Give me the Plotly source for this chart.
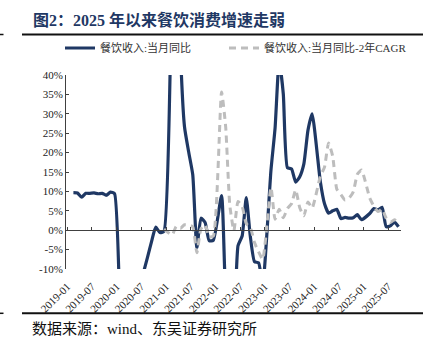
import plotly.graph_objects as go

# ---------------- data ----------------
months = [f"{y}-{m:02d}" for y in range(2019, 2026) for m in range(1, 13)][:81]  # 2019-01 .. 2025-09

tick_labels = ["2019-01", "2019-07", "2020-01", "2020-07", "2021-01", "2021-07", "2022-01",
               "2022-07", "2023-01", "2023-07", "2024-01", "2024-07", "2025-01", "2025-07"]

y_tick_vals = [-10, -5, 0, 5, 10, 15, 20, 25, 30, 35, 40]
y_tick_text = ["-10%", "-5%", "0%", "5%", "10%", "15%", "20%", "25%", "30%", "35%", "40%"]

# 餐饮收入:当月同比 (%), January not published (Jan-Feb combined)
yoy_2019 = [None, 9.7, 9.6, 8.5, 9.5, 9.5, 9.6, 9.4, 9.5, 9.0, 9.8, 9.4]
yoy_2020 = [None, -43.1, -46.8, -31.1, -18.9, -15.2, -11.0, -7.0, -2.9, 0.8, -0.6, -0.3]
yoy_2021 = [None, 68.9, 91.6, 46.4, 26.6, 20.2, 14.3, -4.5, 3.1, 2.0, -2.7, -2.6]
yoy_2022 = [None, 8.9, -16.4, -22.7, -21.1, -4.0, -1.5, 8.4, -1.7, -8.1, -8.4, -14.1]
yoy_2023 = [None, 15.4, 26.3, 43.8, 35.1, 16.1, 15.8, 12.4, 13.8, 17.1, 25.8, 30.0]
yoy_2024 = [None, 12.5, 6.9, 4.4, 5.0, 5.4, 3.0, 3.3, 3.1, 3.2, 4.0, 2.7]
yoy_2025 = [None, 4.3, 5.6, 5.2, 5.9, 0.9, 1.1, 2.1, 0.9]

# 餐饮收入:当月同比-2年CAGR (%)
cagr_2019_2020 = [None] * 23 + [0.3]
cagr_2021 = [None, -1.2, 1.0, 0.5, 1.4, 1.3, 0.9, -5.8, 0.4, 1.4, -1.7, -1.5]
cagr_2022 = [None, 35.6, 26.6, 6.4, -0.1, 7.4, 6.1, 1.7, 0.7, -3.2, -5.6, -7.5]
cagr_2023 = [None, 11.0, 2.8, 5.4, 3.2, 5.6, 6.8, 10.4, 5.8, 3.7, 7.3, 5.7]
cagr_2024 = [None, 13.9, 16.2, 22.5, 19.1, 10.6, 9.2, 7.8, 8.3, 9.9, 14.4, 15.5]
cagr_2025 = [None, 8.3, 6.2, 4.8, 5.4, 3.1, 2.0, 2.7, 2.0]

yoy = yoy_2019 + yoy_2020 + yoy_2021 + yoy_2022 + yoy_2023 + yoy_2024 + yoy_2025
cagr = cagr_2019_2020 + cagr_2021 + cagr_2022 + cagr_2023 + cagr_2024 + cagr_2025

name_yoy = "餐饮收入:当月同比"
name_cagr = "餐饮收入:当月同比-2年CAGR"

# ---------------- layout geometry (pixels) ----------------
W, H = 432, 343
L, R, T, B = 66, 401, 75, 269
PW, PH = R - L, B - T


def px_x(px):
    return (px - L) / PW


def px_y(py):
    return (B - py) / PH


x_range = [-0.8, 80.6]
boundary_ticks = [months.index(t) - 0.5 for t in tick_labels]

NAVY = "#1f3864"
GRAY = "#bdbdbd"
AXIS = "#404040"
SERIF_CJK = "Liberation Serif, Noto Sans CJK SC"

fig = go.Figure()

# invisible helper trace so the zero-line axis (x) gets drawn
fig.add_trace(go.Scatter(x=[x_range[0], x_range[1]], y=[0, 0], xaxis="x", yaxis="y",
                         mode="lines", line=dict(width=0), showlegend=False, hoverinfo="skip"))

fig.add_trace(go.Scatter(x=months, y=yoy, name=name_yoy, xaxis="x2", yaxis="y",
                         mode="lines", connectgaps=True, legend="legend",
                         line=dict(color=NAVY, width=3.2, shape="spline", smoothing=0.5)))
fig.add_trace(go.Scatter(x=months, y=cagr, name=name_cagr, xaxis="x2", yaxis="y",
                         mode="lines", connectgaps=True, legend="legend2",
                         line=dict(color=GRAY, width=3, dash="7px,5px", shape="spline", smoothing=0.5)))

legend_style = dict(orientation="h", xanchor="left", yanchor="middle",
                    font=dict(family=SERIF_CJK, size=11, color="#333333"),
                    bgcolor="rgba(0,0,0,0)", itemclick=False)

fig.update_layout(
    width=W, height=H,
    margin=dict(l=L, r=W - R, t=T, b=H - B, pad=0),
    paper_bgcolor="white", plot_bgcolor="white",
    showlegend=True,
    legend=dict(x=px_x(60), y=px_y(48), **legend_style),
    legend2=dict(x=px_x(224), y=px_y(48), **legend_style),
    xaxis=dict(type="linear", range=x_range, anchor="free", position=0.2,
               tickmode="array", tickvals=boundary_ticks, ticks="inside", ticklen=3,
               tickcolor=AXIS, showline=True, linecolor=AXIS, linewidth=1,
               showticklabels=False, showgrid=False, zeroline=False, fixedrange=True),
    xaxis2=dict(type="category", overlaying="x", anchor="y", side="bottom",
                range=x_range, tickmode="array", tickvals=tick_labels, ticktext=tick_labels,
                tickangle=-45, ticks="", showline=False, showgrid=False, zeroline=False,
                ticklabelstandoff=8, ticklabelshift=-2,
                tickfont=dict(family="Liberation Serif", size=11, color="#222222")),
    yaxis=dict(range=[-10, 40], tickmode="array", tickvals=y_tick_vals, ticktext=y_tick_text,
               ticks="inside", ticklen=3, tickcolor=AXIS, showline=True, linecolor=AXIS,
               linewidth=1, showgrid=False, zeroline=False,
               tickfont=dict(family="Liberation Serif", size=11, color="#222222")),
)

# title and source
fig.add_annotation(text="<b>图2：2025 年以来餐饮消费增速走弱</b>", xref="paper", yref="paper",
                   x=px_x(31), y=px_y(20), xanchor="left", yanchor="middle", showarrow=False,
                   font=dict(family=SERIF_CJK, size=16, color=NAVY))
fig.add_annotation(text="数据来源：wind、东吴证券研究所", xref="paper", yref="paper",
                   x=px_x(30), y=px_y(329), xanchor="left", yanchor="middle", showarrow=False,
                   font=dict(family=SERIF_CJK, size=15, color="#111111"))

# rule lines
for py in (34.5, 313.3):
    fig.add_shape(type="line", xref="paper", yref="paper", x0=px_x(22), x1=px_x(423),
                  y0=px_y(py), y1=px_y(py), line=dict(color="#111111", width=2))
    fig.add_shape(type="line", xref="paper", yref="paper", x0=px_x(0), x1=px_x(3.5),
                  y0=px_y(py), y1=px_y(py), line=dict(color="#111111", width=1.5))

fig.write_html("out.html")
